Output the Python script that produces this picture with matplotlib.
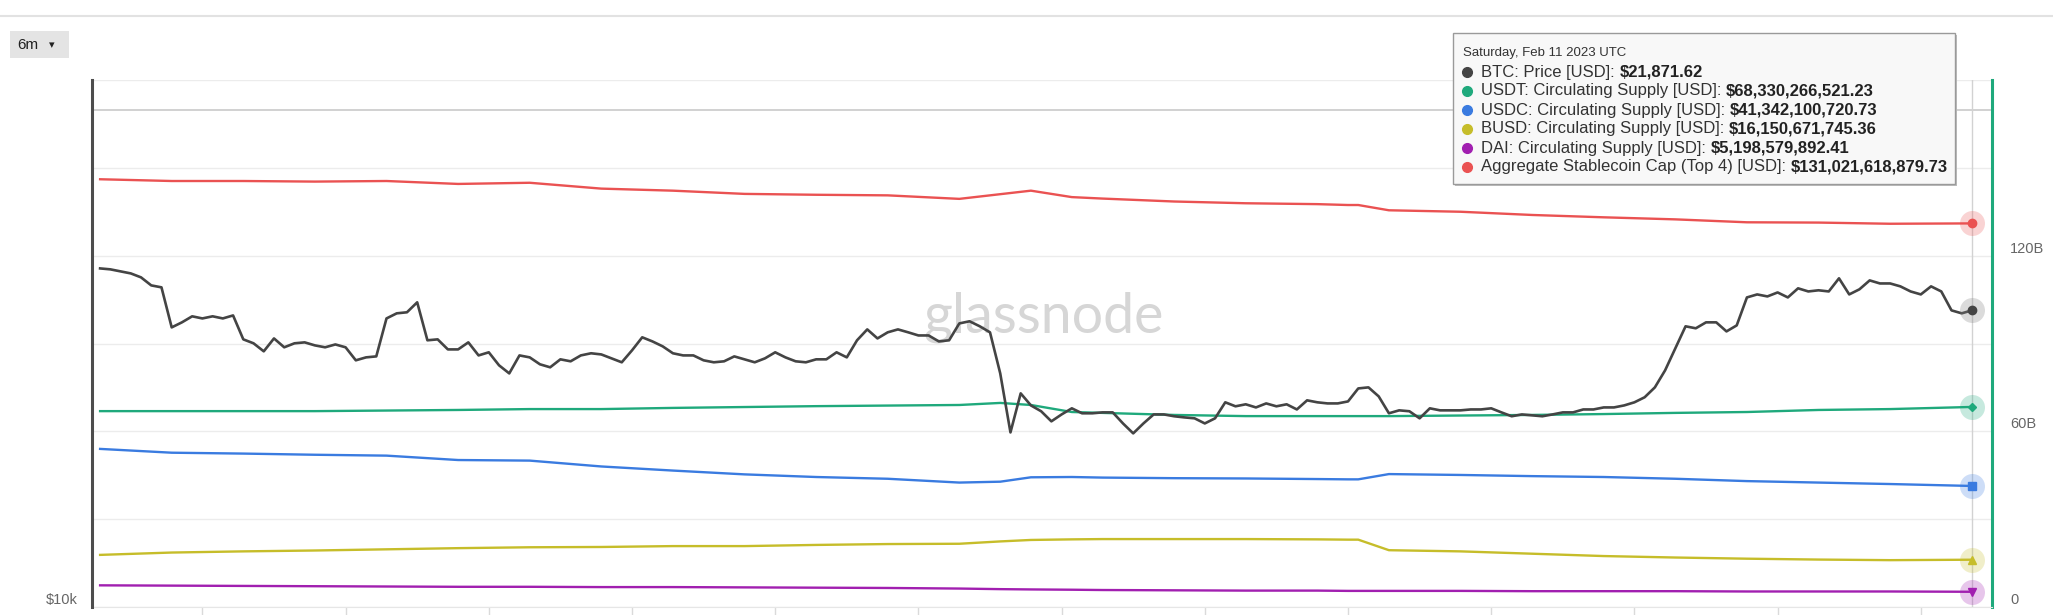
import numpy as np
import pandas as pd
import matplotlib
matplotlib.use('Agg')
import matplotlib.pyplot as plt
from matplotlib.patches import Rectangle
from matplotlib.lines import Line2D
from matplotlib.ticker import NullLocator

plt.rcParams['font.family'] = ['Liberation Sans', 'DejaVu Sans']

# BTC daily price, Aug 12 2022 -> Feb 11 2023
btc_dates = pd.date_range('2022-08-12', '2023-02-11', freq='D')
btc_price = [24430, 24370, 24240, 24110, 23860, 23360, 23240, 20910, 21190, 21530,
             21410, 21530, 21410, 21580, 20260, 20050, 19630, 20310, 19840, 20050,
             20100, 19940, 19840, 19990, 19840, 19170, 19320, 19370, 21410, 21700,
             21760, 22340, 20210, 20260, 19730, 19730, 20100, 19420, 19580, 18920,
             18520, 19420, 19320, 18970, 18820, 19220, 19120, 19420, 19530, 19470,
             19270, 19070, 19680, 20370, 20150, 19890, 19530, 19420, 19420, 19170,
             19070, 19120, 19370, 19220, 19070, 19270, 19580, 19320, 19120, 19070,
             19220, 19220, 19580, 19320, 20210, 20800, 20310, 20640, 20800, 20640,
             20470, 20470, 20150, 20210, 21130, 21250, 20970, 20640, 18520, 15850,
             17570, 17020, 16760, 16320, 16620, 16890, 16670, 16670, 16710, 16710,
             16230, 15810, 16230, 16620, 16620, 16540, 16490, 16450, 16230, 16450,
             17160, 16980, 17070, 16930, 17110, 16980, 17070, 16840, 17250, 17160,
             17110, 17110, 17200, 17800, 17850, 17430, 16670, 16800, 16760, 16450,
             16890, 16800, 16800, 16800, 16840, 16840, 16890, 16710, 16540, 16620,
             16580, 16540, 16620, 16710, 16710, 16840, 16840, 16930, 16930, 17020,
             17160, 17390, 17850, 18670, 19780, 20970, 20860, 21190, 21190, 20690,
             21020, 22630, 22810, 22690, 22930, 22630, 23180, 22990, 23060, 22990,
             23800, 22810, 23120, 23670, 23480, 23480, 23300, 22990, 22810, 23300,
             22990, 21870, 21700, 21871.62]

# stablecoin supply in billions USD, sampled dates
sc_dates = pd.to_datetime(['2022-08-12', '2022-08-19', '2022-08-26', '2022-09-02', '2022-09-09',
                           '2022-09-16', '2022-09-23', '2022-09-30', '2022-10-07', '2022-10-14',
                           '2022-10-21', '2022-10-28', '2022-11-04', '2022-11-08', '2022-11-11',
                           '2022-11-15', '2022-11-18', '2022-11-25', '2022-12-02', '2022-12-09',
                           '2022-12-12', '2022-12-13', '2022-12-16', '2022-12-23', '2022-12-30',
                           '2023-01-06', '2023-01-13', '2023-01-20', '2023-01-27', '2023-02-03',
                           '2023-02-11'])
usdt = [66.9, 66.9, 66.9, 66.9, 67.1, 67.3, 67.6, 67.6, 68.0, 68.3,
        68.6, 68.8, 69.0, 69.7, 69.0, 66.6, 66.3, 65.6, 65.2, 65.2,
        65.2, 65.2, 65.2, 65.4, 65.6, 65.9, 66.3, 66.6, 67.3, 67.6,
        68.33]
usdc = [54.0, 52.7, 52.4, 52.0, 51.7, 50.2, 50.0, 48.0, 46.6, 45.3,
        44.4, 43.8, 42.5, 42.8, 44.3, 44.4, 44.2, 44.0, 43.9, 43.7,
        43.6, 43.6, 45.4, 45.1, 44.7, 44.4, 43.8, 43.0, 42.5, 42.0,
        41.34]
busd = [17.8, 18.6, 19.0, 19.3, 19.7, 20.1, 20.4, 20.5, 20.8, 20.8,
        21.2, 21.5, 21.6, 22.4, 22.9, 23.1, 23.2, 23.2, 23.2, 23.1,
        23.0, 23.0, 19.4, 19.0, 18.2, 17.4, 16.9, 16.5, 16.2, 16.0,
        16.15]
dai = [7.4, 7.3, 7.2, 7.1, 7.0, 6.9, 6.9, 6.8, 6.8, 6.7,
       6.6, 6.5, 6.3, 6.1, 6.0, 5.9, 5.8, 5.7, 5.6, 5.6,
       5.5, 5.5, 5.5, 5.5, 5.4, 5.4, 5.4, 5.3, 5.3, 5.3,
       5.2]
aggregate = np.array(usdt) + np.array(usdc) + np.array(busd) + np.array(dai)

right_ticks = [0, 30, 60, 90, 120, 150, 180]
right_labels = ['0', '', '60B', '', '120B', '', '']
left_ticks = [10000]
left_labels = ['$10k']
x_ticks = pd.date_range('2022-08-22', '2023-02-06', freq='14D')
cursor_level = 169.7

tooltip_date = 'Saturday, Feb 11 2023 UTC'
tooltip_rows = [('BTC: Price [USD]: ', '$21,871.62'),
                ('USDT: Circulating Supply [USD]: ', '$68,330,266,521.23'),
                ('USDC: Circulating Supply [USD]: ', '$41,342,100,720.73'),
                ('BUSD: Circulating Supply [USD]: ', '$16,150,671,745.36'),
                ('DAI: Circulating Supply [USD]: ', '$5,198,579,892.41'),
                ('Aggregate Stablecoin Cap (Top 4) [USD]: ', '$131,021,618,879.73')]

c_btc = '#444444'
c_usdt = '#1fa97c'
c_usdc = '#3a7be0'
c_busd = '#c6bd2a'
c_dai = '#a11fb0'
c_agg = '#ea5252'

W, H = 2053, 615
fig = plt.figure(figsize=(W / 100, H / 100), dpi=100)


def fx(px):
    return px / W


def fy(py):
    return 1 - py / H


ax = fig.add_axes([fx(92), 8 / H, 1900 / W, 527 / H])
ax_btc = ax.twinx()
ax.yaxis.tick_right()
ax_btc.yaxis.tick_left()

# crosshair behind everything
ax.axhline(cursor_level, color='#c9c9c9', lw=1.2, zorder=1)
ax.axvline(btc_dates[-1], color='#d2d2d2', lw=1, zorder=1)

# stablecoin lines (right axis)
series = [(aggregate, c_agg, 'o'), (usdt, c_usdt, 'D'), (usdc, c_usdc, 's'),
          (busd, c_busd, '^'), (dai, c_dai, 'v')]
for vals, col, mk in series:
    ax.plot(sc_dates, vals, color=col, lw=1.7, solid_joinstyle='round', zorder=2)
    ax.plot(sc_dates[-1], vals[-1], 'o', ms=18, color=col, alpha=0.25, mec='none', clip_on=False, zorder=3)
    ax.plot(sc_dates[-1], vals[-1], marker=mk, ms=6 if mk != 'D' else 4.5, color=col,
            lw=0, clip_on=False, zorder=4)

ax.set_ylim(0, 180)
ax.set_yticks(right_ticks)
ax.set_yticklabels(right_labels)
ax.grid(axis='y', color='#ececec', lw=1, zorder=0)
ax.set_axisbelow(True)
ax.tick_params(axis='y', length=0, pad=13, labelsize=10.5, labelcolor='#666666')
for lab in ax.get_yticklabels():
    lab.set_va('bottom')

ax.set_xlim(btc_dates[0] - pd.Timedelta(hours=19), btc_dates[-1] + pd.Timedelta(hours=47))
ax.set_xticks(x_ticks)
ax.set_xticklabels([])
ax.tick_params(axis='x', length=7, width=1, color='#dadada')

ax.spines['left'].set_visible(False)
ax.spines['top'].set_visible(False)
ax.spines['bottom'].set_color('#e6e6e6')
ax.spines['right'].set_color(c_usdt)
ax.spines['right'].set_linewidth(2.2)

# BTC price (left, log)
ax_btc.plot(btc_dates, btc_price, color=c_btc, lw=1.9)
ax_btc.plot(btc_dates[-1], btc_price[-1], 'o', ms=18, color='#888888', alpha=0.3, mec='none', clip_on=False)
ax_btc.plot(btc_dates[-1], btc_price[-1], 'o', ms=6, color=c_btc, clip_on=False)
ax_btc.set_yscale('log')
ax_btc.set_ylim(10000, 40160)
ax_btc.yaxis.set_minor_locator(NullLocator())
ax_btc.set_yticks(left_ticks)
ax_btc.set_yticklabels(left_labels)
ax_btc.tick_params(axis='y', length=0, pad=10, labelsize=10.5, labelcolor='#666666')
for lab in ax_btc.get_yticklabels():
    lab.set_va('bottom')
for s in ['right', 'top', 'bottom']:
    ax_btc.spines[s].set_visible(False)
ax_btc.spines['left'].set_color('#4d4d4d')
ax_btc.spines['left'].set_linewidth(2.2)

ax_btc.text(0.5005, 0.55, 'glassnode', transform=ax_btc.transAxes, ha='center', va='center',
            fontsize=40, color='#d6d6d6', family='Lato', zorder=0)

# page chrome
fig.add_artist(Line2D([0, 1], [fy(16), fy(16)], color='#e2e2e2', lw=1.5))
fig.add_artist(Rectangle((fx(10), fy(58)), 59 / W, 27 / H, fc='#e4e4e4', ec='none'))
fig.text(fx(17), fy(45), '6m', fontsize=11, color='#222222', va='center')
fig.text(fx(49), fy(45), '▾', fontsize=8, color='#222222', va='center', family='DejaVu Sans')

# tooltip
fig.add_artist(Rectangle((fx(1455), fy(186)), 502 / W, 151 / H, fc='#bdbdbd', ec='none', zorder=4))
fig.add_artist(Rectangle((fx(1453), fy(184)), 502 / W, 151 / H, fc='#f8f8f8', ec='#9a9a9a', lw=1, zorder=5))
fig.text(fx(1463), fy(53), tooltip_date, fontsize=9.5, color='#333333', va='center', zorder=6)
renderer = fig.canvas.get_renderer()
dot_colors = [c_btc, c_usdt, c_usdc, c_busd, c_dai, c_agg]
for i, (lab, val) in enumerate(tooltip_rows):
    yc = fy(72 + 19 * i)
    fig.add_artist(Line2D([fx(1467)], [yc], marker='o', ms=7, color=dot_colors[i], lw=0, zorder=6))
    t = fig.text(fx(1481), yc, lab, fontsize=12, color='#333333', va='center', zorder=6)
    bb = t.get_window_extent(renderer)
    fig.text(bb.x1 / W, yc, val, fontsize=12, color='#222222', weight='bold', va='center', zorder=6)

fig.savefig('out.png', dpi=100)
